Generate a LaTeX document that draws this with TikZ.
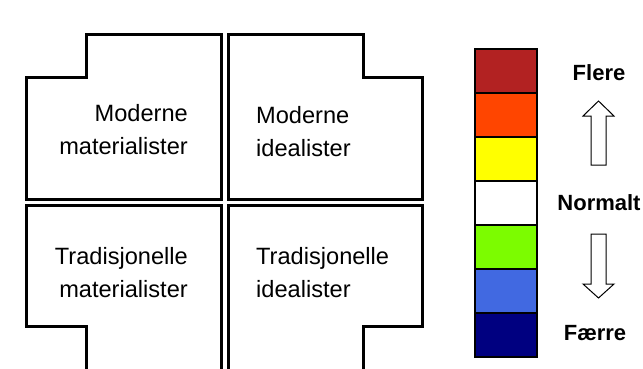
\documentclass[tikz,border=0pt]{standalone}
\usepackage{fontspec}
\setmainfont{Liberation Sans}
\definecolor{c1}{HTML}{B22222}
\definecolor{c2}{HTML}{FF4500}
\definecolor{c3}{HTML}{FFFF00}
\definecolor{c4}{HTML}{FFFFFF}
\definecolor{c5}{HTML}{7CFC00}
\definecolor{c6}{HTML}{4169E1}
\definecolor{c7}{HTML}{000080}
\begin{document}
\begin{tikzpicture}[x=1pt,y=-1pt,
  quad/.style={draw=black,line width=3pt,line join=miter},
  qtext/.style={font=\fontsize{23.6}{32.5}\selectfont,inner sep=0pt},
  cell/.style={draw=black,line width=2pt,minimum width=62pt,minimum height=44pt,inner sep=0pt,anchor=north west},
  lbl/.style={font=\fontsize{22}{26}\selectfont\bfseries,inner sep=0pt},
  barrow/.style={draw=black,line width=1pt,fill=white,line join=miter}]
\useasboundingbox (0,0) rectangle (643,368);
\begin{scope}
\clip (0,0) rectangle (643,368);
\draw[quad] (86,34) -- (221,34) -- (221,199) -- (26,199) -- (26,77) -- (86,77) -- cycle;
\draw[quad] (228,34) -- (363,34) -- (363,77) -- (422,77) -- (422,199) -- (228,199) -- cycle;
\draw[quad] (86,380) -- (86,326) -- (26,326) -- (26,205) -- (221,205) -- (221,380) -- cycle;
\draw[quad] (228,380) -- (228,205) -- (422,205) -- (422,326) -- (363,326) -- (363,380) -- cycle;
\end{scope}
\node[qtext,align=right,anchor=base east] (mm) at (188,154) {Moderne\\materialister};
\node[qtext,align=left,anchor=base west] (mi) at (256,156) {Moderne\\idealister};
\node[qtext,align=right,anchor=base east] (tm) at (188,297) {Tradisjonelle\\materialister};
\node[qtext,align=left,anchor=base west] (ti) at (256,297) {Tradisjonelle\\idealister};
\foreach \i in {1,...,7}{
  \node[cell,fill=c\i] (cell\i) at (474,{48+44*(\i-1)}) {};
}
\draw[barrow] (591,165) -- (591,116) -- (583,116) -- (598.5,101) -- (614,116) -- (606,116) -- (606,165) -- cycle;
\draw[barrow] (591,234) -- (606,234) -- (606,284) -- (614,284) -- (598.5,298) -- (583,284) -- (591,284) -- cycle;
\node[lbl,anchor=base] (flere) at (599,80) {Flere};
\node[lbl,anchor=base] (normalt) at (599,210) {Normalt};
\node[lbl,anchor=base] (faerre) at (595,340) {Færre};
\end{tikzpicture}
\end{document}
